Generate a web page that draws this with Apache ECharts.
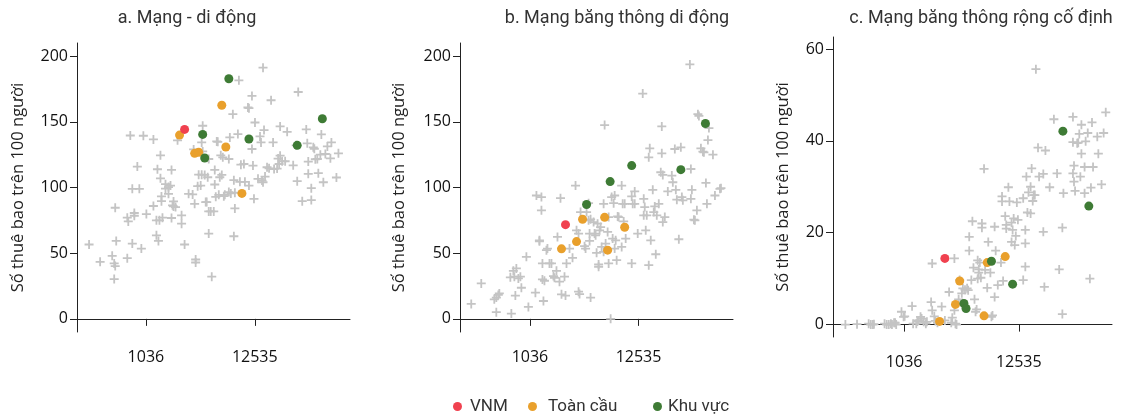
<!DOCTYPE html>
<html><head><meta charset="utf-8">
<script src="https://cdn.jsdelivr.net/npm/echarts@6/dist/echarts.min.js"></script>
<style>html,body{margin:0;padding:0;background:#fff}#chart{width:1123px;height:415px}</style>
</head><body><div id="chart"></div>
<script>
// ---------- text ----------
const panelTitles = ['a. Mạng - di động', 'b. Mạng băng thông di động', 'c. Mạng băng thông rộng cố định'];
const yAxisTitle = 'Số thuê bao trên 100 người';
const seriesNames = ['VNM', 'Toàn cầu', 'Khu vực'];
// x tick labels (GDP per capita, log scale)
const xTickLabels = [1036, 12535];
// y tick labels
const yTicksMobile = [0, 50, 100, 150, 200];
const yTicksMobileBroadband = [0, 50, 100, 150, 200];
const yTicksFixedBroadband = [0, 20, 40, 60];

// ---------- data: [log10 GDP per capita, subscriptions per 100 people] ----------
// a. Mobile
const mobileOthers = [[2.45,56.6],[2.56,43.4],[2.68,48],[2.70,42.2],[2.71,40.2],[2.70,30.3],[2.72,59.3],[2.71,84.6],[2.83,46.2],[2.83,77],[2.84,74.2],[2.86,139.6],[2.88,57.3],[2.88,99],[2.90,80.6],[2.90,78.5],[2.93,115.9],[2.95,99],[2.97,53.5],[2.99,139.4],[3.02,79.8],[3.09,85.9],[3.09,136.6],[3.13,113.9],[3.12,75],[3.15,75],[3.14,59.3],[3.12,63.6],[3.16,107],[3.17,93.2],[3.16,124.5],[3.17,89.6],[3.18,77],[3.21,102.5],[3.21,99.2],[3.24,95.2],[3.24,100.3],[3.26,101.5],[3.27,113.4],[3.27,76.8],[3.28,86.4],[3.29,85.6],[3.29,89.4],[3.31,85.1],[3.33,135.9],[3.37,78.8],[3.37,72.5],[3.40,56.6],[3.44,95.2],[3.48,94.7],[3.49,129],[3.50,87.6],[3.51,45.2],[3.51,42.9],[3.53,101],[3.54,109.8],[3.56,101.5],[3.57,109.8],[3.58,147],[3.57,134.3],[3.58,127.5],[3.60,109.6],[3.61,88.9],[3.62,88.9],[3.63,107.8],[3.64,121.7],[3.64,81.8],[3.64,64.9],[3.66,81.8],[3.69,81.8],[3.67,32.1],[3.70,113.4],[3.70,102.3],[3.71,92.9],[3.72,135.1],[3.73,134.8],[3.74,94.4],[3.75,107.8],[3.76,124.5],[3.77,109.6],[3.78,123],[3.79,93.4],[3.80,94.4],[3.84,121.7],[3.84,96.5],[3.85,138.1],[3.86,95.5],[3.88,155.8],[3.89,105.6],[3.89,62.9],[3.90,84.1],[3.90,96],[3.93,140.7],[3.94,181.6],[3.95,104.3],[3.96,117.4],[3.99,117.9],[4.00,104.3],[4.03,160.9],[4.04,160.4],[4.04,101.5],[4.07,169.7],[4.07,129.3],[4.08,116.7],[4.09,91.4],[4.10,149.5],[4.13,106.6],[4.15,138.9],[4.16,134.3],[4.17,105.3],[4.18,191.2],[4.18,104],[4.19,143.7],[4.20,108.3],[4.22,115.4],[4.24,114.6],[4.26,166.4],[4.28,134.3],[4.29,114.1],[4.32,114.4],[4.33,122],[4.34,117.9],[4.35,124.2],[4.35,146.5],[4.37,120],[4.40,120],[4.42,142.4],[4.48,116.9],[4.51,132.1],[4.52,104.8],[4.53,172.7],[4.57,89.6],[4.61,144.2],[4.62,133.6],[4.63,119.7],[4.63,110.4],[4.66,90.4],[4.66,99.5],[4.68,130.6],[4.69,129.5],[4.70,121.5],[4.72,121.7],[4.73,110.9],[4.75,125],[4.76,140.4],[4.78,104],[4.80,125.5],[4.82,131.3],[4.85,122.2],[4.86,134.3],[4.91,107.6],[4.93,126]];
const mobileVNM = [[3.40,144.2]];
const mobileGlobal = [[3.35,139.9],[3.50,126],[3.54,126.8],[3.77,162.6],[3.81,130.8],[3.97,95.5]];
const mobileRegion = [[3.58,140.4],[3.60,122.5],[3.84,182.8],[4.04,136.9],[4.52,132.1],[4.77,152.3]];

// b. Mobile broadband
const mbbOthers = [[2.43,11.4],[2.53,27],[2.66,14.9],[2.68,16.2],[2.70,18.2],[2.68,5.1],[2.71,19.4],[2.82,31.6],[2.83,4],[2.85,36.6],[2.86,32.1],[2.87,17.7],[2.88,38.4],[2.90,30.8],[2.92,32.1],[2.93,23.7],[2.98,47.2],[3.00,9.1],[3.07,19.9],[3.08,93.9],[3.11,59.1],[3.11,59.8],[3.13,92.7],[3.13,82.6],[3.14,42.2],[3.15,13.6],[3.14,30],[3.16,29],[3.18,52.3],[3.19,53.5],[3.21,42.2],[3.23,42.2],[3.25,32.6],[3.26,31.3],[3.28,36.6],[3.29,62.4],[3.32,91.9],[3.31,28.3],[3.33,18.7],[3.36,32.1],[3.37,17.7],[3.38,42.2],[3.41,53.5],[3.44,46.5],[3.47,101.5],[3.48,67.4],[3.50,64.9],[3.50,20.7],[3.51,18.9],[3.52,81.3],[3.56,55.3],[3.57,53.5],[3.58,81.3],[3.60,75],[3.60,88.1],[3.61,64.9],[3.61,59.3],[3.62,16.2],[3.62,75.8],[3.65,73.7],[3.66,64.9],[3.67,63.6],[3.68,50.3],[3.69,72.5],[3.70,39.6],[3.70,41.4],[3.71,67.4],[3.72,69.9],[3.73,54.8],[3.75,87.6],[3.75,51],[3.76,147.5],[3.77,57.3],[3.79,66.2],[3.80,77.5],[3.80,42.2],[3.82,0],[3.83,92.7],[3.84,61.1],[3.85,88.1],[3.86,93.9],[3.86,53.5],[3.87,59.8],[3.88,44.7],[3.89,78],[3.90,77.5],[3.93,101.5],[3.93,54.8],[3.94,87.6],[3.95,74.2],[3.96,87.6],[3.97,61.1],[4.03,93.2],[4.03,42.2],[4.04,87.6],[4.06,87.6],[4.06,97],[4.09,64.9],[4.14,171.5],[4.15,91.4],[4.15,78.8],[4.16,85.1],[4.17,67.4],[4.18,78.8],[4.20,123],[4.21,129.8],[4.20,40.9],[4.22,59.8],[4.24,98.2],[4.25,81.3],[4.26,85.6],[4.27,49.2],[4.28,78.8],[4.30,87.6],[4.32,111.6],[4.33,146.5],[4.33,126],[4.34,73.7],[4.34,109.6],[4.36,77.5],[4.39,97],[4.43,109.1],[4.44,104],[4.46,129.3],[4.47,98.2],[4.48,90.7],[4.50,60.6],[4.52,130.6],[4.53,92.7],[4.54,90.2],[4.61,193.7],[4.62,114.1],[4.62,91.4],[4.63,98.2],[4.65,75.5],[4.66,75],[4.68,82.6],[4.69,155.8],[4.70,154.5],[4.72,129.8],[4.74,127.3],[4.75,126.8],[4.77,103.5],[4.78,87.6],[4.79,136.1],[4.80,145.2],[4.84,125],[4.86,93.9],[4.91,99],[4.92,99.5]];
const mbbVNM = [[3.37,71.7]];
const mbbGlobal = [[3.33,53.3],[3.48,58.8],[3.54,75.8],[3.76,77.3],[3.79,52.3],[3.96,69.7]];
const mbbRegion = [[3.58,87.1],[3.815,104.5],[4.03,116.7],[4.52,113.6],[4.765,148.7]];

// c. Fixed broadband
const fbbOthers = [[2.46,0],[2.57,0.1],[2.68,0.2],[2.70,0],[2.72,0],[2.73,0.1],[2.83,0.2],[2.85,0],[2.87,0],[2.89,0.2],[2.90,0],[2.92,0.4],[2.93,0.4],[2.94,0],[2.99,2.8],[3.01,1.7],[3.02,1.8],[3.09,4.0],[3.10,0.2],[3.13,0.2],[3.14,0.7],[3.15,0.9],[3.17,1.7],[3.18,1.3],[3.20,0.6],[3.22,0.2],[3.23,0.6],[3.27,4.9],[3.28,13.3],[3.28,3.1],[3.30,1.8],[3.31,0.8],[3.33,0.4],[3.37,3.9],[3.40,0.9],[3.44,7.1],[3.46,0.4],[3.47,1.5],[3.49,14.4],[3.49,3.1],[3.50,0.2],[3.51,0],[3.53,5.5],[3.54,9.7],[3.56,6.8],[3.57,7.9],[3.59,7.6],[3.61,7.9],[3.62,7.5],[3.63,19.1],[3.63,16.1],[3.65,9.7],[3.66,22.5],[3.67,12.4],[3.68,5.5],[3.69,2.8],[3.70,3.3],[3.71,14.0],[3.71,10.0],[3.72,11.3],[3.72,12.0],[3.73,13.5],[3.74,10.2],[3.75,21.1],[3.75,22.0],[3.77,33.9],[3.78,11.9],[3.80,8.0],[3.81,18.0],[3.83,11.3],[3.84,1.7],[3.85,2.0],[3.87,21.3],[3.87,6.0],[3.88,16.1],[3.90,8.6],[3.93,13.5],[3.94,26.8],[3.94,27.9],[3.95,9.5],[3.97,23.6],[3.98,20.9],[3.98,21.7],[4.00,29.9],[4.01,26.8],[4.03,18.0],[4.03,22.2],[4.04,20.6],[4.05,23.1],[4.06,17.3],[4.07,19.3],[4.08,26.6],[4.09,22.8],[4.14,27.5],[4.14,9.7],[4.16,12.6],[4.16,17.7],[4.16,20.6],[4.17,32.2],[4.18,24.4],[4.19,28.8],[4.21,24.2],[4.21,30.0],[4.22,34.0],[4.23,26.9],[4.24,28.2],[4.25,28.2],[4.26,55.6],[4.28,38.5],[4.29,32.2],[4.33,32.8],[4.33,20.2],[4.34,8.2],[4.35,37.9],[4.39,29.9],[4.43,44.7],[4.46,32.9],[4.48,12.0],[4.51,21.1],[4.51,2.3],[4.52,28.6],[4.61,45.2],[4.61,39.7],[4.61,32.9],[4.62,34.6],[4.62,31.1],[4.63,29.1],[4.65,39.5],[4.66,39.6],[4.67,41.5],[4.68,32.2],[4.69,37.2],[4.69,43.5],[4.72,28.6],[4.72,34.3],[4.73,39.9],[4.75,41.7],[4.77,10.0],[4.78,29.8],[4.79,44.0],[4.80,34.3],[4.84,40.9],[4.85,37.2],[4.88,30.5],[4.90,41.7],[4.92,46.2]];
const fbbVNM = [[3.40,14.4]];
const fbbGlobal = [[3.35,0.7],[3.50,4.4],[3.54,9.5],[3.77,1.9],[3.80,13.5],[3.97,14.8]];
const fbbRegion = [[3.58,4.6],[3.60,3.5],[3.84,13.8],[4.04,8.8],[4.515,42.1],[4.76,25.8]];

// ---------- layout & style ----------
const colors = { others: '#c4c4c4', vnm: '#f0414f', global: '#e9a02c', region: '#3e7b35' };
const crossPath = 'path://M3.6,0H5.4V3.6H9V5.4H5.4V9H3.6V5.4H0V3.6H3.6Z';
const panels = [
  { grid: { left: 77, top: 43, width: 273, height: 289 }, xr: [2.330, 5.045], yr: [-10, 210], yt: yTicksMobile, gap: 50, titleX: 187,
    data: [mobileOthers, mobileVNM, mobileGlobal, mobileRegion] },
  { grid: { left: 460, top: 43, width: 273, height: 289 }, xr: [2.318, 5.040], yr: [-10, 210], yt: yTicksMobileBroadband, gap: 52, titleX: 617,
    data: [mbbOthers, mbbVNM, mbbGlobal, mbbRegion] },
  { grid: { left: 833, top: 37, width: 279, height: 300 }, xr: [2.343, 4.979], yr: [-2.7, 62.6], yt: yTicksFixedBroadband, gap: 41, titleX: 981,
    data: [fbbOthers, fbbVNM, fbbGlobal, fbbRegion] }
];
const tickFont = { fontFamily: 'Open Sans', fontSize: 16, color: '#111' };
const xTickPos = xTickLabels.map(v => Math.log10(v));
const axisLine = { show: true, lineStyle: { color: '#222', width: 1 } };
const legendLeft = [448, 523, 648];
const legendTextPad = [3, 6, 1];

const option = {
  animation: false,
  backgroundColor: '#fff',
  grid: panels.map(p => Object.assign({ containLabel: false }, p.grid)),
  xAxis: panels.map((p, i) => ({
    type: 'value', gridIndex: i, min: p.xr[0], max: p.xr[1],
    axisLine, splitLine: { show: false },
    axisTick: { show: true, length: 7, customValues: xTickPos, lineStyle: { color: '#222' } },
    axisLabel: Object.assign({ customValues: xTickPos, margin: 17,
      formatter: v => String(xTickLabels[xTickPos.findIndex(t => Math.abs(t - v) < 1e-6)]) }, tickFont)
  })),
  yAxis: panels.map((p, i) => ({
    type: 'value', gridIndex: i, min: p.yr[0], max: p.yr[1],
    axisLine, splitLine: { show: false },
    axisTick: { show: true, length: 7, customValues: p.yt, lineStyle: { color: '#222' } },
    axisLabel: Object.assign({ customValues: p.yt, margin: 9 }, tickFont),
    name: yAxisTitle, nameLocation: 'middle', nameGap: p.gap, nameRotate: 90,
    nameTextStyle: { fontFamily: 'Open Sans', fontSize: 16.5, color: '#222' }
  })),
  legend: seriesNames.map((n, k) => ({
    data: [n], left: legendLeft[k], top: 393, icon: 'circle', itemWidth: 9, itemHeight: 9, itemGap: 6,
    textStyle: { fontFamily: 'Roboto', fontSize: 17, color: '#333', padding: [0, 0, 0, legendTextPad[k]] }
  })),
  graphic: panels.map((p, i) => ({
    type: 'text', x: p.titleX, y: 18,
    style: { text: panelTitles[i], textAlign: 'center', textVerticalAlign: 'middle', font: '18px Roboto', fill: '#333' }
  })),
  series: []
};
const seriesStyles = [
  { name: 'others', symbol: crossPath, symbolSize: 9, color: colors.others, z: 2 },
  { name: seriesNames[0], symbol: 'circle', symbolSize: 9, color: colors.vnm, z: 5 },
  { name: seriesNames[1], symbol: 'circle', symbolSize: 9, color: colors.global, z: 4 },
  { name: seriesNames[2], symbol: 'circle', symbolSize: 9, color: colors.region, z: 4 }
];
panels.forEach((p, i) => {
  seriesStyles.forEach((s, k) => {
    option.series.push({
      type: 'scatter', name: s.name, xAxisIndex: i, yAxisIndex: i, data: p.data[k],
      symbol: s.symbol, symbolSize: s.symbolSize, z: s.z,
      itemStyle: { color: s.color, opacity: 1 }, emphasis: { disabled: true }
    });
  });
});
const chart = echarts.init(document.getElementById('chart'), null, { renderer: 'canvas' });
chart.setOption(option);
</script></body></html>
